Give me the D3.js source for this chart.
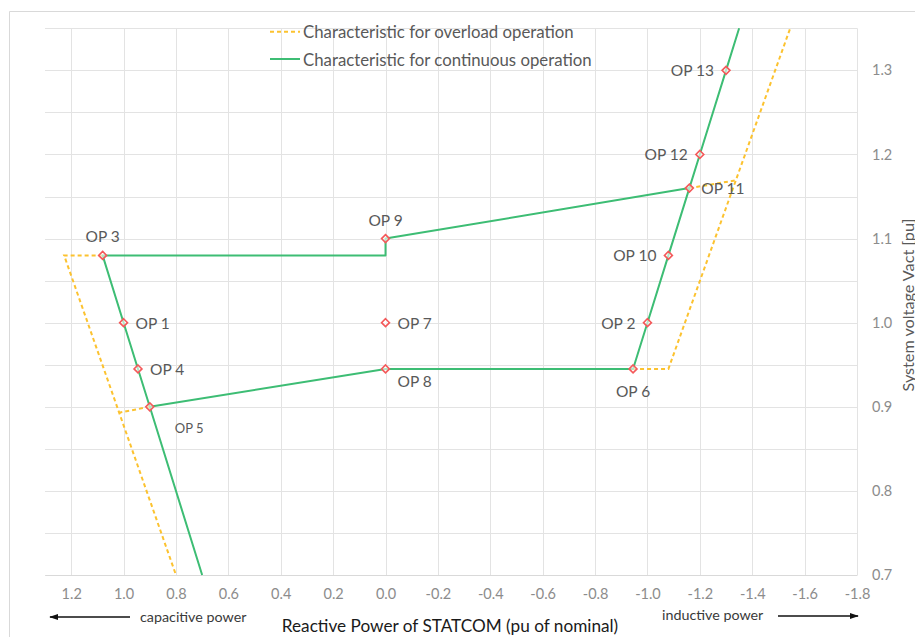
<!DOCTYPE html>
<html>
<head>
<meta charset="utf-8">
<script src="https://cdn.jsdelivr.net/npm/d3@7"></script>
<style>
  html, body { margin: 0; padding: 0; background: #fff; }
  svg { display: block; font-family: Lato, "Noto Sans", sans-serif; }
</style>
</head>
<body>
<svg id="chart" width="915" height="637"></svg>
<script>
// Reactive power (pu of nominal) vs. system voltage (pu) of a STATCOM V/Q characteristic.
const xTicks = [1.2, 1.0, 0.8, 0.6, 0.4, 0.2, 0.0, -0.2, -0.4, -0.6, -0.8, -1.0, -1.2, -1.4, -1.6, -1.8];
const xTickLabels = ["1.2", "1.0", "0.8", "0.6", "0.4", "0.2", "0.0", "-0.2", "-0.4", "-0.6", "-0.8", "-1.0", "-1.2", "-1.4", "-1.6", "-1.8"];
const yTicks = [0.7, 0.8, 0.9, 1.0, 1.1, 1.2, 1.3];
const yTickLabels = ["0.7", "0.8", "0.9", "1.0", "1.1", "1.2", "1.3"];
const yGrid = [0.7, 0.75, 0.8, 0.85, 0.9, 0.95, 1.0, 1.05, 1.1, 1.15, 1.2, 1.25, 1.3, 1.35];

// Continuous-operation characteristic, as [Q, V] polylines
const continuousUpper = [[0.7, 0.7], [0.9, 0.9], [0.945, 0.945], [1.0, 1.0], [1.08, 1.08], [0.0, 1.08], [0.0, 1.1], [-1.16, 1.16]];
const continuousLower = [[0.9, 0.9], [0.0, 0.945], [-0.945, 0.945], [-1.0, 1.0], [-1.08, 1.08], [-1.16, 1.16], [-1.2, 1.2], [-1.3, 1.3], [-1.35, 1.35]];

// Overload-operation characteristic, as [Q, V] polylines
const overloadCapacitive = [[1.08, 1.08], [1.227, 1.08], [0.8, 0.7]];
const overloadCapacitiveLow = [[0.9, 0.9], [1.017, 0.893]];
const overloadInductive = [[-0.945, 0.945], [-1.08, 0.945], [-1.545, 1.35]];
const overloadInductiveHigh = [[-1.16, 1.16], [-1.333, 1.169]];

// Operating points
const opNames = ["OP 1", "OP 2", "OP 3", "OP 4", "OP 5", "OP 6", "OP 7", "OP 8", "OP 9", "OP 10", "OP 11", "OP 12", "OP 13"];
const opQ = [1.0, -1.0, 1.08, 0.945, 0.9, -0.945, 0.0, 0.0, 0.0, -1.08, -1.16, -1.2, -1.3];
const opV = [1.0, 1.0, 1.08, 0.945, 0.9, 0.945, 1.0, 0.945, 1.1, 1.08, 1.16, 1.2, 1.3];

const legendLabels = ["Characteristic for overload operation", "Characteristic for continuous operation"];

// Where each operating-point label sits relative to its marker
const labelSide = {
  "OP 1": "right", "OP 2": "left", "OP 3": "above", "OP 4": "right", "OP 5": "belowRightFar",
  "OP 6": "below", "OP 7": "right", "OP 8": "belowRight", "OP 9": "above", "OP 10": "left",
  "OP 11": "right", "OP 12": "left", "OP 13": "left"
};

const GREEN = "#3dbd74";
const GOLD = "#fcc22f";
const RED = "#f4595a";
const GRID = "#e3e3e3";
const TEXT = "#595959";

const svg = d3.select("#chart");
const plot = { left: 45, right: 857, top: 28.3, bottom: 575 };

const x = d3.scaleLinear().domain([1.3, -1.8]).range([plot.left, plot.right]);
const y = d3.scaleLinear().domain([0.7, 1.35]).range([plot.bottom, plot.top]);

// Chart area frame
svg.append("path")
  .attr("d", "M9.5,640 V11.5 H920")
  .attr("fill", "none").attr("stroke", "#d9d9d9").attr("stroke-width", 1);

svg.append("defs").append("clipPath").attr("id", "plotClip")
  .append("rect")
  .attr("x", plot.left).attr("y", plot.top - 1)
  .attr("width", plot.right - plot.left).attr("height", plot.bottom - plot.top + 2);

// Gridlines
const grid = svg.append("g").attr("class", "grid");
grid.selectAll("line.h").data(yGrid).join("line")
  .attr("class", "h")
  .attr("x1", plot.left).attr("x2", plot.right)
  .attr("y1", d => Math.round(y(d)) + 0.5).attr("y2", d => Math.round(y(d)) + 0.5)
  .attr("stroke", GRID).attr("stroke-width", 1);
grid.selectAll("line.v").data(xTicks).join("line")
  .attr("class", "v")
  .attr("y1", plot.top).attr("y2", plot.bottom)
  .attr("x1", d => Math.round(x(d)) + 0.5).attr("x2", d => Math.round(x(d)) + 0.5)
  .attr("stroke", GRID).attr("stroke-width", 1);

// Bottom axis tick labels
const xAxis = d3.axisBottom(x)
  .tickValues(xTicks)
  .tickFormat((d, i) => xTickLabels[i])
  .tickSize(0).tickPadding(14);
const gx = svg.append("g").attr("transform", `translate(0,${plot.bottom})`).call(xAxis);
gx.select(".domain").attr("stroke", "#d9d9d9");
gx.selectAll("text").attr("fill", "#8c8c8c").style("font-size", "14.5px").style("font-family", "Lato, sans-serif");

// Right axis tick labels
const yAxis = d3.axisRight(y)
  .tickValues(yTicks)
  .tickFormat((d, i) => yTickLabels[i])
  .tickSize(0).tickPadding(15);
const gy = svg.append("g").attr("transform", `translate(${plot.right},0)`).call(yAxis);
gy.select(".domain").remove();
gy.selectAll("text").attr("fill", "#8c8c8c").style("font-size", "14.5px").style("font-family", "Lato, sans-serif");

// Characteristic lines
const line = d3.line().x(d => x(d[0])).y(d => y(d[1]));
const lines = svg.append("g").attr("clip-path", "url(#plotClip)");

[overloadCapacitive, overloadCapacitiveLow, overloadInductive, overloadInductiveHigh].forEach(seg => {
  lines.append("path").datum(seg)
    .attr("d", line)
    .attr("fill", "none").attr("stroke", GOLD)
    .attr("stroke-width", 2).attr("stroke-dasharray", "4,3");
});
[continuousUpper, continuousLower].forEach(seg => {
  lines.append("path").datum(seg)
    .attr("d", line)
    .attr("fill", "none").attr("stroke", GREEN)
    .attr("stroke-width", 2).attr("stroke-linejoin", "round");
});

// Operating point markers
const ops = opNames.map((name, i) => ({ name, q: opQ[i], v: opV[i] }));
const diamond = d3.symbol().type(d3.symbolDiamond2).size(40);
svg.append("g").selectAll("path").data(ops).join("path")
  .attr("d", diamond)
  .attr("transform", d => `translate(${x(d.q)},${y(d.v)})`)
  .attr("fill", "#fff").attr("fill-opacity", 0.6)
  .attr("stroke", RED).attr("stroke-width", 1.6);

// Operating point labels
const placement = {
  right:         { dx: 12, dy: 0, anchor: "start" },
  left:          { dx: -12, dy: 0, anchor: "end" },
  above:         { dx: 0, dy: -19, anchor: "middle" },
  below:         { dx: 0, dy: 22, anchor: "middle" },
  belowRight:    { dx: 12, dy: 12, anchor: "start" },
  belowRightFar: { dx: 25, dy: 21, anchor: "start" }
};
svg.append("g").selectAll("text").data(ops).join("text")
  .attr("x", d => x(d.q) + placement[labelSide[d.name]].dx)
  .attr("y", d => y(d.v) + placement[labelSide[d.name]].dy)
  .attr("text-anchor", d => placement[labelSide[d.name]].anchor)
  .attr("dominant-baseline", "central")
  .attr("fill", TEXT)
  .style("font-size", d => d.name === "OP 5" ? "13px" : "15.5px")
  .text(d => d.name);

// Legend
const legend = svg.append("g");
const legendRows = [
  { label: legendLabels[0], color: GOLD, dash: "4,3", cy: 31.7 },
  { label: legendLabels[1], color: GREEN, dash: null, cy: 59 }
];
legendRows.forEach(r => {
  legend.append("line")
    .attr("x1", 270).attr("x2", 300).attr("y1", r.cy).attr("y2", r.cy)
    .attr("stroke", r.color).attr("stroke-width", 2)
    .attr("stroke-dasharray", r.dash);
  legend.append("text")
    .attr("x", 303).attr("y", r.cy)
    .attr("dominant-baseline", "central")
    .attr("fill", TEXT).style("font-size", "16.8px")
    .text(r.label);
});

// Axis titles
svg.append("text")
  .attr("x", 450).attr("y", 625)
  .attr("text-anchor", "middle").attr("dominant-baseline", "central")
  .attr("fill", "#1a1a1a").style("font-size", "17.2px")
  .text("Reactive Power of STATCOM (pu of nominal)");

svg.append("text")
  .attr("transform", "translate(907,305) rotate(-90)")
  .attr("text-anchor", "middle").attr("dominant-baseline", "central")
  .attr("fill", TEXT).style("font-size", "16.2px")
  .text("System voltage Vact [pu]");

// Direction hints under the Q axis
const markerDefs = svg.select("defs");
markerDefs.append("marker")
  .attr("id", "arrowHead")
  .attr("viewBox", "0 0 10 10").attr("refX", 9).attr("refY", 5)
  .attr("markerWidth", 6).attr("markerHeight", 6)
  .attr("orient", "auto-start-reverse")
  .append("path").attr("d", "M0,1.5 L10,5 L0,8.5 Z").attr("fill", "#111");

svg.append("line")
  .attr("x1", 130).attr("x2", 50).attr("y1", 617).attr("y2", 617)
  .attr("stroke", "#111").attr("stroke-width", 1.5)
  .attr("marker-end", "url(#arrowHead)");
svg.append("text")
  .attr("x", 140).attr("y", 616)
  .attr("dominant-baseline", "central")
  .attr("fill", "#3a3a3a").style("font-size", "14.3px")
  .text("capacitive power");

svg.append("line")
  .attr("x1", 778).attr("x2", 858).attr("y1", 616).attr("y2", 616)
  .attr("stroke", "#111").attr("stroke-width", 1.5)
  .attr("marker-end", "url(#arrowHead)");
svg.append("text")
  .attr("x", 662).attr("y", 614)
  .attr("dominant-baseline", "central")
  .attr("fill", "#3a3a3a").style("font-size", "14.3px")
  .text("inductive power");
</script>
</body>
</html>
